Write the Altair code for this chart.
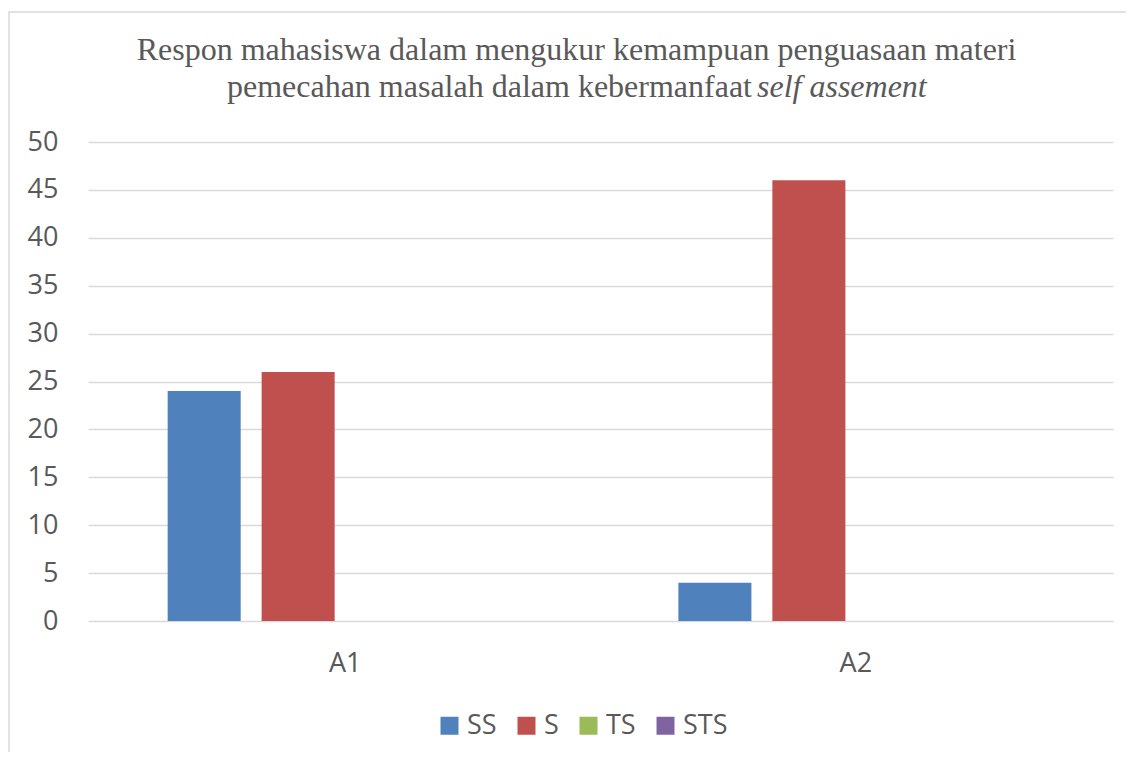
import altair as alt
import pandas as pd

categories = ["A1", "A2"]
series = ["SS", "S", "TS", "STS"]
ss_values = [24, 4]
s_values = [26, 46]
ts_values = [0, 0]
sts_values = [0, 0]
colors = ["#4F81BD", "#C0504D", "#9BBB59", "#8064A2"]
y_ticks = [0, 5, 10, 15, 20, 25, 30, 35, 40, 45, 50]
title_line1 = "Respon mahasiswa dalam mengukur kemampuan penguasaan materi"
title_line2a = "pemecahan masalah dalam kebermanfaat"
title_line2b = "self assement"

rows = []
for name, vals in zip(series, [ss_values, s_values, ts_values, sts_values]):
    for c, v in zip(categories, vals):
        rows.append({"cat": c, "series": name, "value": v})
df = pd.DataFrame(rows)

TEXT = "#595959"
SANS = "Open Sans"
SERIF = "Liberation Serif"

bars = alt.Chart(df).mark_bar().encode(
    x=alt.X("cat:N", sort=categories, title=None,
            scale=alt.Scale(paddingInner=0.305, paddingOuter=0.156),
            axis=alt.Axis(labelAngle=0, labelFontSize=27, labelFont=SANS, labelColor=TEXT,
                          labelPadding=29, ticks=False, domain=False, grid=False)),
    xOffset=alt.XOffset("series:N", sort=series,
                        scale=alt.Scale(paddingInner=0.223, paddingOuter=0)),
    y=alt.Y("value:Q", title=None,
            scale=alt.Scale(domain=[0, 50], nice=False),
            axis=alt.Axis(values=y_ticks, labelFontSize=27, labelFont=SANS, labelColor=TEXT,
                          labelPadding=30, ticks=False, domain=False, grid=True,
                          gridColor="#D9D9D9", gridWidth=1.3)),
    color=alt.Color("series:N", sort=series,
                    scale=alt.Scale(domain=series, range=colors),
                    legend=alt.Legend(title=None, orient="none", direction="horizontal",
                                      legendX=348, legendY=570, padding=0,
                                      symbolType="square", symbolSize=324, symbolStrokeWidth=0,
                                      symbolOpacity=1,
                                      labelFontSize=27, labelFont=SANS, labelColor=TEXT,
                                      labelOffset=4, columnPadding=16)),
)

one = pd.DataFrame({"k": [0]})

border = alt.Chart(one).mark_rect(filled=False, stroke="#D9D9D9", strokeWidth=1.5).encode(
    x=alt.value(-79), x2=alt.value(1200), y=alt.value(-130), y2=alt.value(800)
)

t1 = alt.Chart(one).mark_text(font=SERIF, fontSize=32, color=TEXT, align="center",
                              baseline="alphabetic").encode(
    x=alt.value(488.5), y=alt.value(-82), text=alt.value(title_line1))
t2a = alt.Chart(one).mark_text(font=SERIF, fontSize=32, color=TEXT, align="right",
                               baseline="alphabetic").encode(
    x=alt.value(664), y=alt.value(-45), text=alt.value(title_line2a))
t2b = alt.Chart(one).mark_text(font=SERIF, fontSize=32, color=TEXT, align="left",
                               baseline="alphabetic", fontStyle="italic").encode(
    x=alt.value(669), y=alt.value(-45), text=alt.value(title_line2b))

chart = alt.layer(border, bars, t1, t2a, t2b).properties(
    width=1025, height=479,
    autosize=alt.AutoSizeParams(type="none"),
    padding={"left": 80, "top": 134, "right": 13, "bottom": 131},
    background="white",
).configure_view(strokeOpacity=0)

chart.save("out.html", embed_options={"renderer": "svg", "actions": False})
